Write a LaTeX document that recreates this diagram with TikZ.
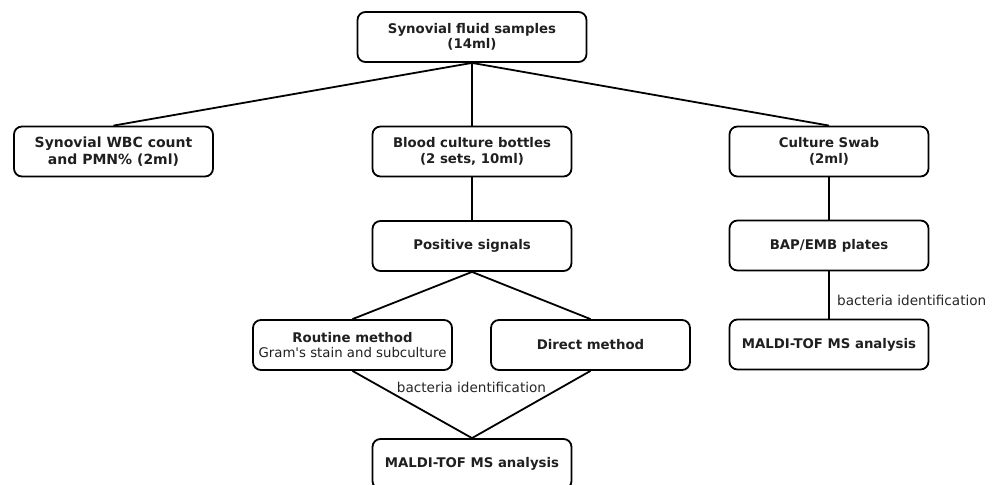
\documentclass[tikz,border=0pt]{standalone}
\usepackage{fontspec}
\setmainfont{DejaVu Sans}
\begin{document}
\begin{tikzpicture}[x=1pt,y=-1pt,
  box/.style={draw=black,line width=1.8pt,rounded corners=8pt,minimum width=199pt,minimum height=50pt,align=center,inner sep=0pt,font=\fontsize{13.3}{15.5}\selectfont\bfseries,text=black!88},
  conn/.style={line width=1.8pt,black},
  lbl/.style={font=\fontsize{13.6}{16}\selectfont,text=black!85,inner sep=0pt}]
\useasboundingbox (0,0) rectangle (1000,484);
\node[box,minimum width=229pt] (top) at (472,37) {Synovial fluid samples\\(14ml)};
\node[box,font=\fontsize{14}{16.5}\selectfont\bfseries] (wbc) at (113.5,151.5) {Synovial WBC count\\and PMN\% (2ml)};
\node[box] (blood) at (472,151.5) {Blood culture bottles\\(2 sets, 10ml)};
\node[box] (swab) at (829,151.5) {Culture Swab\\(2ml)};
\node[box] (pos) at (472,246) {Positive signals};
\node[box] (bap) at (829,245.5) {BAP/EMB plates};
\node[box] (routine) at (352.5,345) {Routine method\\\mdseries Gram\textquotesingle s stain and subculture};
\node[box] (direct) at (590.5,345) {Direct method};
\node[box] (maldiR) at (829,344.5) {MALDI-TOF MS analysis};
\node[box] (maldi) at (472,464) {MALDI-TOF MS analysis};
\draw[conn] (top.south) -- (wbc.north);
\draw[conn] (top.south) -- (blood.north);
\draw[conn] (top.south) -- (swab.north);
\draw[conn] (blood.south) -- (pos.north);
\draw[conn] (pos.south) -- (routine.north);
\draw[conn] (pos.south) -- (direct.north);
\draw[conn] (routine.south) -- (maldi.north);
\draw[conn] (direct.south) -- (maldi.north);
\draw[conn] (swab.south) -- (bap.north);
\draw[conn] (bap.south) -- (maldiR.north);
\node[lbl] (lab1) at (471.5,387) {bacteria identification};
\node[lbl,anchor=west] (lab2) at (837,300.5) {bacteria identification};
\end{tikzpicture}
\end{document}
